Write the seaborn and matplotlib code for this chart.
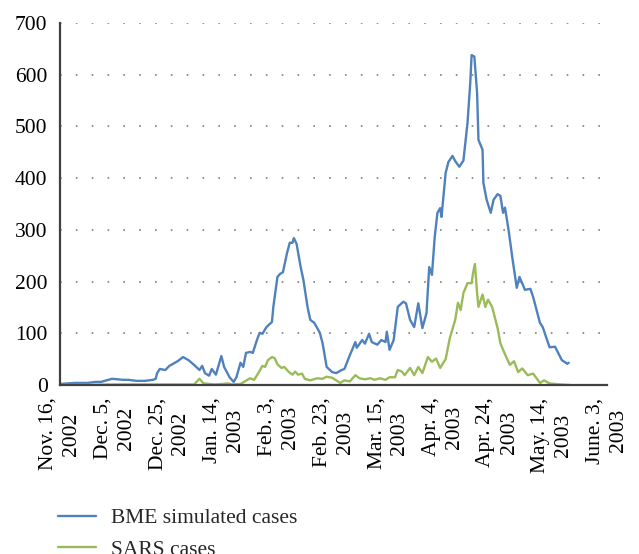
import matplotlib
matplotlib.use("Agg")
import matplotlib.pyplot as plt
import seaborn as sns
import pandas as pd

# ---- data (day index since Nov. 16, 2002) ----
bme_days = [0, 5.5, 10, 13, 15, 19, 23, 25, 28, 31, 34, 35, 35.5, 36.5, 38.5, 40, 43, 45, 47, 49,
            51, 52, 53, 54.5, 55.5, 57, 59, 60, 62, 63.5, 64.5, 66, 67, 68, 69.5, 70.5, 72, 73, 74,
            75.5, 77.5, 78, 79.5, 80.5, 81.5, 83, 84, 85, 85.5, 86.5, 88, 89, 90.5, 91.5, 93, 95,
            96, 97.5, 99.5, 101, 103, 104, 106, 108, 108.5, 110.5, 111.5, 113, 114, 116, 117.5,
            119, 119.5, 120.5, 122, 123.5, 125.5, 126.5, 128, 129.5, 131, 132.5, 134, 135, 136,
            137, 138, 139, 139.5, 141, 142, 143.5, 144.5, 146, 147.5, 149, 150, 150.5, 151.5,
            152.5, 153, 154.5, 154.8, 156, 157.5, 158.5, 160, 161, 162, 162.7, 164, 165.5, 167,
            168, 170, 172, 173, 175.5, 176.5, 179, 181, 183.5, 185.5, 186]
bme_vals = [2, 4, 4, 6, 6, 12, 10, 10, 8, 8, 10, 12, 23, 31, 29, 37, 46, 54, 48, 39,
            29, 37, 23, 18, 31, 20, 56, 35, 15, 6, 15, 43, 35, 62, 64, 62, 87, 101, 99,
            112, 122, 151, 209, 215, 218, 255, 275, 275, 284, 273, 228, 203, 151, 126, 120, 101,
            81, 35, 25, 23, 29, 31, 58, 83, 72, 87, 80, 99, 83, 78, 87,
            83, 103, 68, 87, 151, 161, 158, 126, 112, 158, 110, 139, 228, 213,
            286, 333, 342, 325, 410, 431, 443, 433, 422, 434, 507, 584, 638, 635,
            565, 474, 455, 391, 358, 333, 358, 369, 366, 333, 343, 300, 242, 188,
            209, 184, 186, 170, 120, 112, 73, 74, 48, 41, 43]

sars_days = [0, 20, 40, 49, 51, 52.5, 56.7, 61.5, 63, 66, 69.5, 71, 72.5, 74, 75, 76, 77.5, 78.5,
             79.5, 81, 82, 83.5, 85, 86, 87, 88.5, 89.5, 91.5, 94, 96, 97.5, 99.5, 101, 102.5,
             104, 106, 108, 109.5, 111.5, 113.5, 115, 117, 119, 120.5, 122.5, 123.5, 125, 126,
             128, 129.5, 131, 132.5, 134.5, 136, 137.5, 139, 141, 142.5, 144.5, 145.5, 146.5,
             147.5, 149, 150.5, 151, 151.7, 152.5, 153, 154.5, 155.5, 156.5, 158, 160, 161, 162,
             163.5, 164.5, 166, 167.5, 169, 171, 173, 175.5, 177, 179, 183, 186.5]
sars_vals = [0, 1, 1, 1, 12, 3, 1, 3, 1, 2, 13, 10, 23, 37, 35, 48, 54, 52,
             40, 33, 35, 26, 20, 26, 20, 22, 12, 9, 13, 12, 16, 14, 9, 4,
             9, 7, 19, 13, 11, 13, 10, 13, 10, 15, 15, 29, 26, 19,
             33, 19, 35, 23, 54, 45, 51, 33, 50, 90, 126, 159, 145,
             178, 197, 197, 216, 234, 178, 151, 175, 151, 165, 151, 110, 81, 68,
             50, 39, 46, 25, 32, 19, 22, 4, 9, 3, 1, 0]

tick_days = [0, 20, 40, 60, 80, 100, 120, 140, 160, 180, 200]
tick_labels = ["Nov. 16,\n2002", "Dec. 5,\n2002", "Dec. 25,\n2002", "Jan. 14,\n2003",
               "Feb. 3,\n2003", "Feb. 23,\n2003", "Mar. 15,\n2003", "Apr. 4,\n2003",
               "Apr. 24,\n2003", "May. 14,\n2003", "June. 3,\n2003"]
series_names = ["BME simulated cases", "SARS cases"]
y_ticks = [0, 100, 200, 300, 400, 500, 600, 700]

df = pd.concat([
    pd.DataFrame({"day": bme_days, "cases": bme_vals, "series": series_names[0]}),
    pd.DataFrame({"day": sars_days, "cases": sars_vals, "series": series_names[1]}),
])

sns.set_style("white")
plt.rcParams["font.family"] = ["Liberation Serif", "DejaVu Serif"]

fig = plt.figure(figsize=(6.39, 5.54), dpi=100)
ax = fig.add_axes([60 / 639, 1 - 385 / 554, 547 / 639, 362 / 554])

palette = {series_names[0]: "#4F81BD", series_names[1]: "#9BBB59"}
sns.lineplot(data=df, x="day", y="cases", hue="series", palette=palette,
             estimator=None, linewidth=1.7, ax=ax, legend=True)

ax.set_xlim(0, 200)
ax.set_ylim(0, 700)
ax.set_yticks(y_ticks)
ax.set_yticklabels([str(v) for v in y_ticks], fontsize=15.5)
ax.set_xticks(tick_days)
ax.set_xticklabels(tick_labels, rotation=90, fontsize=15.5, ha="center", va="top",
                   multialignment="center", linespacing=1.3)
ax.set_xlabel("")
ax.set_ylabel("")

for y in y_ticks[1:]:
    ax.axhline(y, color="#7f7f7f", linestyle=(0, (1, 8.5)), linewidth=1.2, zorder=0)

for s in ["top", "right"]:
    ax.spines[s].set_visible(False)
for s in ["left", "bottom"]:
    ax.spines[s].set_color("#404040")
    ax.spines[s].set_linewidth(1.6)
ax.tick_params(axis="both", direction="out", length=5, width=1.4, color="#404040",
               labelcolor="black", pad=4)

handles, labels = ax.get_legend_handles_labels()
ax.get_legend().remove()
fig.legend(handles, labels, loc="upper left", bbox_to_anchor=(58 / 639, 1 - 508 / 554),
           frameon=False, fontsize=15.5, handlelength=1.75, handletextpad=0.7,
           labelspacing=0.55, borderaxespad=0, borderpad=0)

fig.savefig("out.png", dpi=100)
